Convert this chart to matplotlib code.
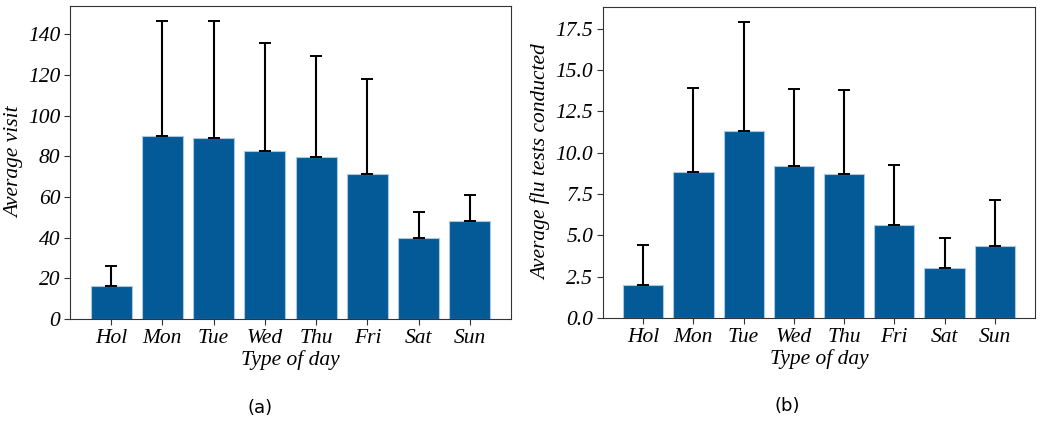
import numpy as np
import matplotlib
matplotlib.use("Agg")
import matplotlib.pyplot as plt

days = ["Hol", "Mon", "Tue", "Wed", "Thu", "Fri", "Sat", "Sun"]

# panel (a): average visits, bar height and top of error bar
visit_mean = [16.4, 89.8, 89.0, 82.6, 79.5, 71.4, 40.0, 48.3]
visit_top = [26.1, 146.6, 146.5, 136.0, 129.4, 118.2, 52.7, 61.2]

# panel (b): average flu tests conducted
flu_mean = [2.02, 8.81, 11.32, 9.21, 8.71, 5.64, 3.05, 4.33]
flu_top = [4.41, 13.92, 17.88, 13.82, 13.78, 9.24, 4.85, 7.15]

plt.rcParams['font.family'] = ['Liberation Serif', 'DejaVu Serif']
plt.rcParams['font.style'] = 'italic'

bar_color = "#035a96"
edge_color = "#a9c8e4"

fig = plt.figure(figsize=(10.5, 4.25), dpi=100)
ax1 = fig.add_axes([70 / 1050, 1 - 319 / 425, 441 / 1050, 313 / 425])
ax2 = fig.add_axes([603 / 1050, 1 - 318 / 425, 432 / 1050, 311 / 425])


def draw(ax, mean, top, ylabel, ylim, yticks, fmt):
    mean = np.array(mean)
    err = np.array(top) - mean
    x = np.arange(len(days))
    ax.bar(x, mean, width=0.8, color=bar_color, edgecolor=edge_color, linewidth=0.8)
    ax.errorbar(x, mean, yerr=[np.zeros_like(err), err], fmt='none',
                ecolor='black', elinewidth=1.5, capsize=4, capthick=1.4)
    ax.set_xlim(-0.8, 7.8)
    ax.set_ylim(*ylim)
    ax.set_xticks(x)
    ax.set_xticklabels(days, fontsize=15.5)
    ax.set_yticks(yticks)
    ax.set_yticklabels([fmt.format(v) for v in yticks], fontsize=15.5)
    ax.set_xlabel("Type of day", fontsize=15.5, labelpad=2)
    ax.set_ylabel(ylabel, fontsize=15.5, labelpad=3)
    for s in ax.spines.values():
        s.set_color("#333333")
    ax.tick_params(length=4, color="#333333", pad=3)


draw(ax1, visit_mean, visit_top, "Average visit", (0, 154),
     [0, 20, 40, 60, 80, 100, 120, 140], "{:.0f}")
draw(ax2, flu_mean, flu_top, "Average flu tests conducted", (0, 18.8),
     [0.0, 2.5, 5.0, 7.5, 10.0, 12.5, 15.0, 17.5], "{:.1f}")

fig.text(260 / 1050, 1 - 408 / 425, "(a)", ha='center', va='center',
         fontsize=13, family='DejaVu Sans', style='normal')
fig.text(787 / 1050, 1 - 406 / 425, "(b)", ha='center', va='center',
         fontsize=13, family='DejaVu Sans', style='normal')

fig.savefig("out.png", dpi=100)
